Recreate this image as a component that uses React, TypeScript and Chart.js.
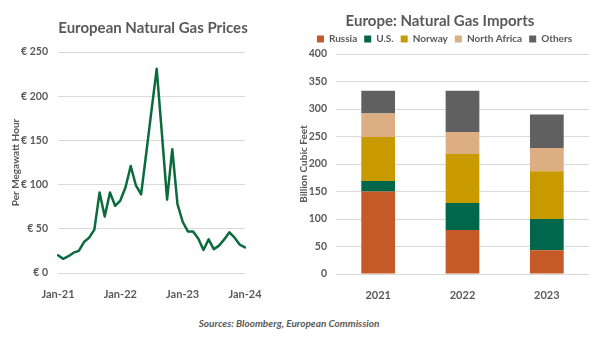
import React, { useEffect, useRef } from "react";
import { Chart, registerables } from "chart.js";

Chart.register(...registerables);

const MONTHS = ["Jan", "Feb", "Mar", "Apr", "May", "Jun", "Jul", "Aug", "Sep", "Oct", "Nov", "Dec"];
const YEARS_SHORT = ["21", "22", "23"];
const priceLabels: string[] = [];
YEARS_SHORT.forEach((y) => MONTHS.forEach((m) => priceLabels.push(`${m}-${y}`)));
priceLabels.push("Jan-24");

const prices = [
  20, 16, 19, 23, 25, 35, 40, 49, 91, 64, 91, 76,
  82, 97, 121, 99, 89, 136, 184, 231, 158, 83, 140, 78,
  58, 47, 47, 39, 26, 38, 27, 31, 38, 46, 40, 32,
  29,
];

const importYears = ["2021", "2022", "2023"];
const russia = [150, 80, 43];
const us = [19, 49, 57];
const norway = [80, 89, 87];
const northAfrica = [43, 40, 42];
const others = [41, 75, 61];

const GREY = "#595959";
const GRID = "#D9D9D9";
const FONT = "Lato";

function PriceChart() {
  const ref = useRef<HTMLCanvasElement>(null);
  useEffect(() => {
    const chart = new Chart(ref.current!, {
      type: "line",
      data: {
        labels: priceLabels,
        datasets: [
          {
            data: prices,
            borderColor: "#0B6B3C",
            borderWidth: 2.5,
            borderJoinStyle: "round",
            borderCapStyle: "round",
            pointRadius: 0,
            tension: 0,
            fill: false,
          },
        ],
      },
      options: {
        animation: false,
        responsive: false,
        layout: { padding: { top: 52, left: 0, right: 55, bottom: 0 } },
        plugins: { legend: { display: false }, tooltip: { enabled: false } },
        scales: {
          x: {
            grid: { display: false },
            border: { display: false },
            ticks: {
              autoSkip: false,
              maxRotation: 0,
              padding: 7,
              color: GREY,
              font: { family: FONT, size: 11, weight: "bold" },
              callback: (_v: any, i: number) => (i % 12 === 0 ? priceLabels[i] : ""),
            },
            afterFit: (s: any) => {
              s.height = 27;
            },
          },
          y: {
            min: 0,
            max: 250,
            ticks: {
              stepSize: 50,
              padding: 10,
              color: GREY,
              font: { family: FONT, size: 10.5, weight: "bold" },
              callback: (v: any) => "€ " + v,
            },
            grid: { color: GRID, drawTicks: false },
            border: { display: false },
            title: {
              display: true,
              text: "Per Megawatt Hour",
              color: GREY,
              font: { family: FONT, size: 10, weight: "bold" },
              padding: { top: 10, bottom: 0 },
            },
            afterFit: (s: any) => {
              s.width = 58;
            },
          },
        },
      },
    });
    return () => chart.destroy();
  }, []);
  return <canvas ref={ref} width={300} height={300} style={{ position: "absolute", left: 0, top: 0 }} />;
}

function ImportsChart() {
  const ref = useRef<HTMLCanvasElement>(null);
  useEffect(() => {
    const mk = (label: string, data: number[], color: string) => ({
      label,
      data,
      backgroundColor: color,
      borderWidth: 0,
      barPercentage: 0.4,
      categoryPercentage: 1,
    });
    const chart = new Chart(ref.current!, {
      type: "bar",
      data: {
        labels: importYears,
        datasets: [
          mk("Russia", russia, "#C55A28"),
          mk("U.S.", us, "#00674A"),
          mk("Norway", norway, "#C99A00"),
          mk("North Africa", northAfrica, "#DDAD84"),
          mk("Others", others, "#606060"),
        ],
      },
      options: {
        animation: false,
        responsive: false,
        layout: { padding: { top: 27, left: 0, right: 11, bottom: 0 } },
        plugins: {
          tooltip: { enabled: false },
          legend: {
            position: "top",
            labels: {
              boxWidth: 7,
              boxHeight: 7,
              padding: 7,
              color: GREY,
              font: { family: FONT, size: 10, weight: "bold" },
            },
          },
        },
        scales: {
          x: {
            stacked: true,
            grid: { display: false },
            border: { display: false },
            ticks: {
              padding: 7,
              color: GREY,
              font: { family: FONT, size: 11, weight: "bold" },
            },
            afterFit: (s: any) => {
              s.height = 26;
            },
          },
          y: {
            stacked: true,
            min: 0,
            max: 400,
            ticks: {
              stepSize: 50,
              padding: 9,
              color: GREY,
              font: { family: FONT, size: 10.5, weight: "bold" },
            },
            grid: { color: GRID, drawTicks: false },
            border: { display: false },
            title: {
              display: true,
              text: "Billion Cubic Feet",
              color: GREY,
              font: { family: FONT, size: 10, weight: "bold" },
              padding: { top: -2, bottom: 0 },
            },
            afterFit: (s: any) => {
              s.width = 36;
            },
          },
        },
      },
    });
    return () => chart.destroy();
  }, []);
  return <canvas ref={ref} width={300} height={300} style={{ position: "absolute", left: 300, top: 0 }} />;
}

const titleStyle: React.CSSProperties = {
  position: "absolute",
  width: 300,
  textAlign: "center",
  fontFamily: FONT,
  fontWeight: "bold",
  fontSize: 15,
  color: GREY,
  lineHeight: "20px",
  whiteSpace: "nowrap",
};

export default function App() {
  useEffect(() => {
    document.body.style.margin = "0";
  }, []);
  return (
    <div style={{ position: "absolute", left: 0, top: 0, width: 600, height: 338, background: "#fff", overflow: "hidden" }}>
      <PriceChart />
      <ImportsChart />
      <div style={{ ...titleStyle, left: 3, top: 17 }}>European Natural Gas Prices</div>
      <div style={{ ...titleStyle, left: 290, top: 10 }}>Europe: Natural Gas Imports</div>
      <div
        style={{
          position: "absolute",
          left: 89,
          width: 400,
          top: 316,
          textAlign: "center",
          fontFamily: FONT,
          fontStyle: "italic",
          fontWeight: "bold",
          fontSize: 10,
          color: GREY,
          lineHeight: "14px",
        }}
      >
        Sources: Bloomberg, European Commission
      </div>
    </div>
  );
}
